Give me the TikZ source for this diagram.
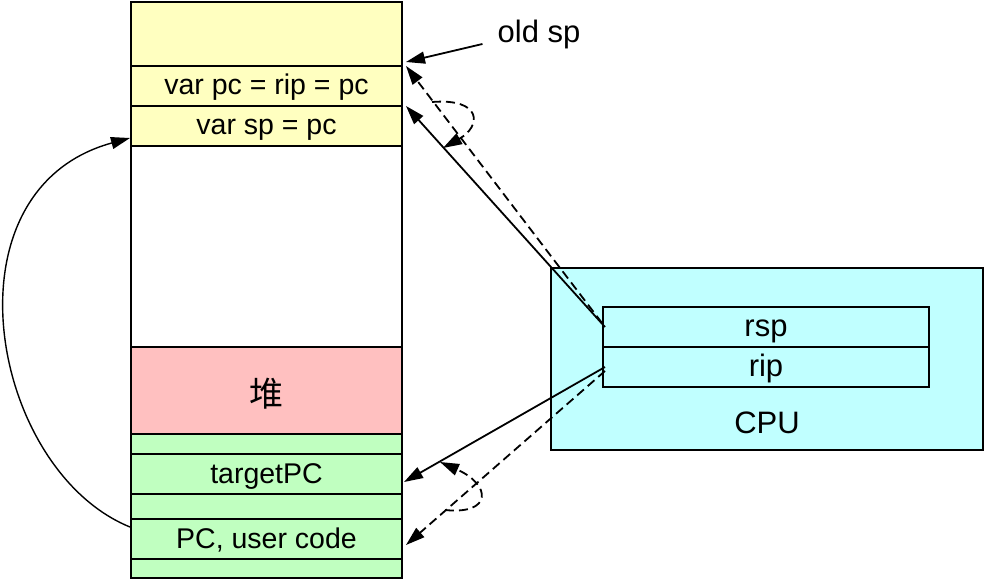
\documentclass[tikz,border=0pt]{standalone}
\usepackage{fontspec}
\setmainfont{Liberation Sans}
\newfontfamily\cjkfont{Noto Sans CJK SC}
\usetikzlibrary{arrows.meta,calc}
\definecolor{cyel}{RGB}{255,255,192}
\definecolor{cred}{RGB}{255,192,192}
\definecolor{cgrn}{RGB}{192,255,192}
\definecolor{ccyan}{RGB}{192,255,255}
\tikzset{
  cell/.style={draw, line width=2pt, minimum width=271pt, inner sep=0pt, font=\fontsize{28.5}{32}\selectfont, text height=22pt, text depth=4pt},
  blankcell/.style={cell, text height=0pt, text depth=0pt},
  reg/.style={draw, line width=2pt, minimum width=326pt, minimum height=40pt, inner sep=0pt, font=\fontsize{31}{34}\selectfont, text height=24pt, text depth=5pt},
  lbl/.style={inner sep=0pt, font=\fontsize{31}{34}\selectfont, text height=24pt, text depth=5pt},
  conn/.style={line width=1.8pt, -{Triangle[length=19pt,width=12pt]}},
  dconn/.style={conn, dash pattern=on 9pt off 5pt},
}
\begin{document}
\begin{tikzpicture}[x=1pt,y=-1pt]
\useasboundingbox (0,0) rectangle (984,580);
% stack
\node[blankcell, fill=cyel, minimum height=64pt] (c0) at (266.5,34) {};
\node[cell, fill=cyel, minimum height=40pt] (c1) at (266.5,86) {var pc = rip = pc};
\node[cell, fill=cyel, minimum height=40pt] (c2) at (266.5,126) {var sp = pc};
\node[blankcell, fill=white, minimum height=201pt] (c3) at (266.5,246.5) {};
\node[cell, fill=cred, minimum height=87pt, font=\cjkfont\fontsize{34}{38}\selectfont, text height=31pt, text depth=0pt] (c4) at (266.5,390.5) {堆};
\node[blankcell, fill=cgrn, minimum height=20pt] (c5) at (266.5,444) {};
\node[cell, fill=cgrn, minimum height=40pt] (c6) at (266.5,474) {targetPC};
\node[blankcell, fill=cgrn, minimum height=25pt] (c7) at (266.5,506.5) {};
\node[cell, fill=cgrn, minimum height=40pt] (c8) at (266.5,539) {PC, user code};
\node[blankcell, fill=cgrn, minimum height=19pt] (c9) at (266.5,568.5) {};
% CPU
\node[draw, line width=2pt, fill=ccyan, minimum width=432pt, minimum height=182pt, inner sep=0pt] (cpu) at (767,359) {};
\node[lbl] (cpulbl) at (767,424) {CPU};
\node[reg] (rsp) at (766,327) {rsp};
\node[reg] (rip) at (766,367) {rip};
% old sp
\node[lbl, text depth=4pt] (oldsp) at (539,33) {old sp};
\coordinate (oldsptail) at ($(oldsp.west)+(-15,11)$);
\draw[conn] (oldsptail) -- ($(c0.south east)+(3,-5)$);
% top arrows
\coordinate (rspS) at ($(rsp.west)+(3,0)$);
\coordinate (rspD) at ($(rsp.west)+(0,-4)$);
\draw[conn] (rspS) -- ($(c2.north east)+(3,1)$);
\draw[dconn] (rspD) -- ($(c1.north east)+(3,1)$);
\draw[dconn] (432,102) .. controls (482,98) and (482,126) .. (443,148);
% bottom arrows
\coordinate (ripS) at ($(rip.west)+(3,0)$);
\coordinate (ripD) at ($(rip.west)+(3,4)$);
\draw[conn] (ripS) -- ($(c6.east)+(1,8)$);
\draw[dconn] (ripD) -- ($(c8.east)+(3,6)$);
\draw[dconn] (445,510) .. controls (492,515) and (492,485) .. (440,462);
% left curve
\draw[conn, line width=1.4pt] ($(c8.west)+(0,-12)$) .. controls (-10,470) and (-60,190) .. ($(c2.west)+(0,12)$);
\end{tikzpicture}
\end{document}
